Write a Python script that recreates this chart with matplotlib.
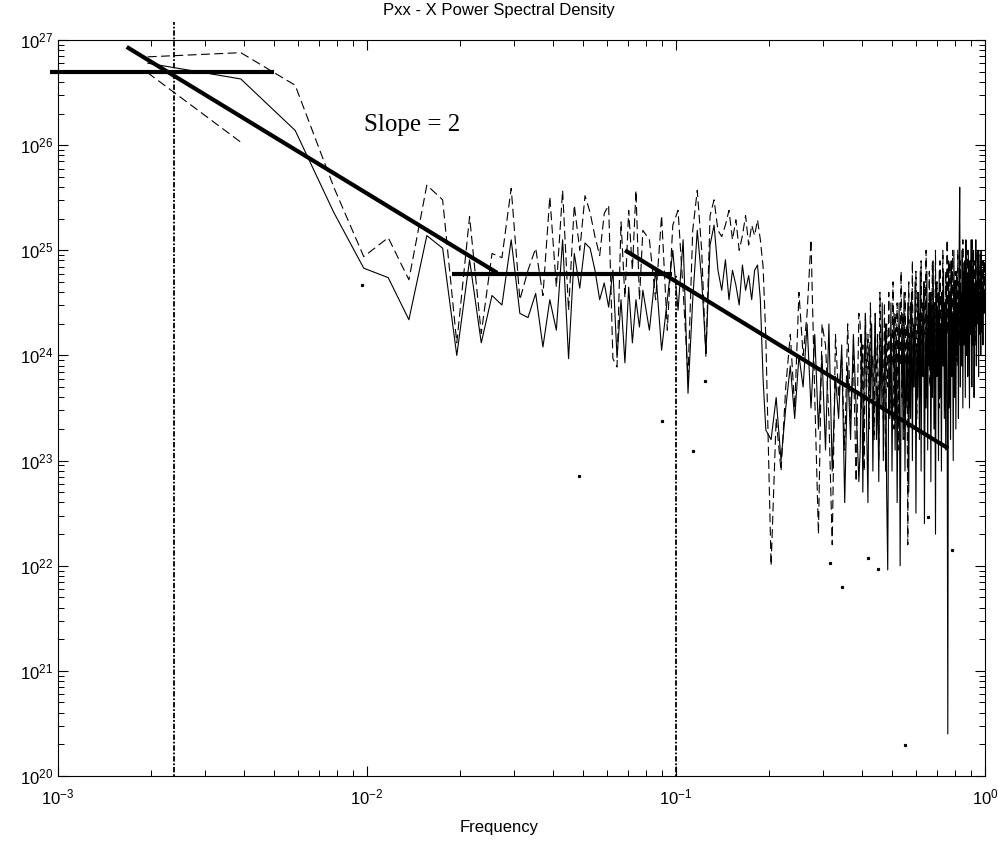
import numpy as np
import matplotlib
matplotlib.use('Agg')
import matplotlib.pyplot as plt
from matplotlib.ticker import LogLocator, NullFormatter

# frequency bins (fft bins of 1/512), thinned a bit in the middle
nfft = 512
bins = np.r_[np.arange(1, 41), np.arange(42, 101, 2), np.arange(104, 201, 4), np.arange(202, 513, 2)]
freq = bins / nfft

# log10 of Pxx, solid curve
solid_lo = [26.78, 26.63, 26.14, 25.36, 24.83, 24.74, 24.34, 25.14, 25.02, 24.00,
            24.91, 24.12, 24.57, 24.48, 25.10, 24.40, 24.36, 24.59, 24.08, 24.53,
            24.24, 25.10, 23.97, 24.97, 24.64, 25.07, 25.02, 24.81, 24.53, 24.69,
            24.46, 24.81, 23.98, 24.53, 23.93, 24.65, 24.12, 24.53, 24.27, 24.62]
solid_mid = [24.24, 24.81, 24.05, 24.53, 25.00, 24.43, 25.10, 23.64, 24.53, 25.19,
             24.72, 24.02, 25.05, 25.24, 24.81, 24.62, 24.91, 24.53, 24.81, 24.67,
             24.48, 24.86, 24.62, 24.76, 24.53, 24.81, 24.86, 24.53, 23.77, 23.29]
solid_hi1 = [23.2, 23.6, 23.0, 23.5, 23.9, 23.4, 24.0, 23.7, 24.3, 23.5,
             24.2, 23.3, 24.0, 23.1, 24.3, 22.9, 23.8, 23.4, 24.1, 22.6,
             23.9, 23.2, 24.2, 23.5, 22.8]
solid_hi2 = [23.1, 24.2, 22.7, 23.8, 24.4, 23.3, 22.6, 24.1, 23.6, 24.3, 22.9, 23.9,
             24.4, 23.2, 23.7, 22.8, 24.2, 23.5, 24.5, 23.0, 23.8, 24.3, 22.7, 21.96,
             24.0, 23.4, 24.5, 22.9, 23.9, 24.4, 23.1, 24.2, 22.6, 23.8, 24.5, 22.0,
             23.7, 24.4, 23.2, 24.6, 22.9, 24.0, 23.5, 24.5, 22.7, 24.2, 23.4, 24.6,
             23.0, 24.3, 23.7, 24.7, 22.5, 24.1, 23.6, 24.6, 23.2, 24.8, 22.9, 24.3,
             23.8, 24.7, 22.4, 24.2, 23.5, 24.8, 23.1, 24.5, 23.9, 24.6, 22.8, 24.4,
             23.6, 24.9, 23.3, 24.5, 22.3, 24.7, 23.8, 24.4, 23.0, 24.8, 23.6, 24.3,
             22.9, 24.6, 23.9, 24.8, 23.4, 24.5, 23.1, 24.7, 23.7, 20.4, 24.9, 23.5,
             24.6, 23.2, 24.9, 23.8, 24.4, 23.0, 25.0, 23.6, 24.7, 23.3, 24.8, 24.0,
             24.5, 23.4, 24.9, 25.6, 23.7, 24.6, 23.9, 25.0, 23.5, 24.8, 24.1, 24.9,
             23.6, 25.1, 24.0, 24.7, 23.8, 25.0, 24.3, 23.5, 24.9, 24.2, 25.1, 23.7,
             24.8, 24.1, 25.0, 23.6, 24.6, 24.3, 25.1, 23.9, 24.7, 24.4, 25.0, 23.8,
             24.6, 24.2, 24.9, 24.0, 25.0, 24.3, 24.7, 24.1, 24.9, 24.4, 24.6, 24.5]

# log10 of Pxx, dashed curve
dashed_lo = [26.84, 26.88, 26.57, 25.60, 24.94, 25.12, 24.72, 25.62, 25.48, 24.12,
             25.32, 24.21, 24.97, 24.93, 25.59, 24.53, 24.81, 25.02, 24.57, 25.51,
             24.65, 25.57, 24.43, 25.43, 25.00, 25.52, 25.36, 25.13, 24.95, 25.35,
             25.43, 23.97, 23.89, 25.27, 24.55, 25.38, 24.81, 25.57, 24.53, 25.19]
dashed_mid = [25.10, 24.53, 25.33, 24.24, 25.24, 25.38, 24.62, 23.79, 25.19, 25.57,
              25.00, 23.98, 25.33, 25.48, 25.19, 25.13, 25.24, 25.38, 25.10, 25.29,
              25.00, 25.14, 25.33, 25.05, 25.24, 25.14, 25.29, 25.10, 24.84, 24.17]
dashed_hi1 = [22.0, 23.4, 22.9, 23.7, 24.2, 23.5, 24.6, 24.0, 24.4, 25.1,
              23.6, 22.3, 24.3, 24.1, 23.4, 22.2, 24.2, 23.6, 24.0, 23.1,
              24.3, 23.4, 24.0, 22.8, 24.4]
dashed_hi2 = [24.3, 23.5, 24.1, 22.9, 24.4, 23.7, 24.2, 23.3, 24.5, 23.8, 24.0, 23.2,
              24.4, 23.6, 24.2, 23.0, 24.6, 23.9, 24.1, 23.4, 24.5, 22.9, 24.3, 23.7,
              24.6, 23.5, 24.2, 23.9, 24.7, 23.3, 24.4, 23.8, 24.5, 23.1, 24.3, 23.9,
              24.8, 23.6, 24.4, 23.2, 24.6, 23.9, 24.3, 22.2, 24.7, 23.5, 24.5, 23.8,
              24.9, 23.7, 24.3, 24.0, 24.8, 23.4, 24.6, 23.9, 24.4, 23.6, 24.9, 24.1,
              24.5, 23.8, 24.7, 24.2, 25.0, 23.6, 24.4, 24.0, 24.8, 23.7, 24.6, 24.2,
              24.9, 23.9, 24.5, 24.1, 25.0, 23.8, 24.7, 24.3, 24.6, 23.5, 24.9, 24.0,
              24.6, 24.2, 25.0, 23.9, 24.5, 24.1, 24.8, 23.8, 25.1, 24.2, 24.6, 24.0,
              24.9, 24.3, 24.6, 23.9, 25.0, 24.2, 24.7, 24.0, 24.8, 24.4, 24.5, 23.9,
              25.0, 24.3, 24.7, 24.1, 24.9, 24.4, 24.6, 24.0, 25.1, 24.3, 24.8, 24.2,
              24.9, 24.4, 24.6, 24.1, 25.0, 24.3, 24.8, 24.0, 24.9, 24.5, 24.7, 24.2,
              25.1, 24.3, 24.8, 24.4, 24.9, 24.1, 25.0, 24.4, 24.7, 24.3, 24.9, 24.5,
              24.8, 24.3, 25.0, 24.4, 24.7, 24.2, 24.9, 24.5, 24.8, 24.4, 24.9, 24.6]

solid = np.array(solid_lo + solid_mid + solid_hi1 + solid_hi2)
dashed = np.array(dashed_lo + dashed_mid + dashed_hi1 + dashed_hi2)

# short dashed piece at the start
short_f = [0.00195, 0.0039]
short_p = [26.69, 26.03]

# stray points of a third (dotted) trace
dot_f = [0.00964, 0.0485, 0.0902, 0.1135, 0.124, 0.315, 0.344, 0.418, 0.451, 0.55, 0.655, 0.782]
dot_p = [24.67, 22.85, 23.38, 23.09, 23.76, 22.03, 21.80, 22.07, 21.97, 20.29, 22.46, 22.15]

# fitted segments (thick)
seg_f = [[0.00094, 0.0050], [0.00167, 0.0264], [0.0188, 0.097], [0.0684, 0.759]]
seg_p = [[5.0e26, 5.0e26], [8.6e26, 6.1e24], [6.0e24, 6.0e24], [1.0e25, 1.31e23]]

# break frequencies
vline_f = [0.00237, 0.1]
vline_p = [[1e20, 1.5e27], [1e20, 6e24]]

plt.rcParams['font.family'] = ['Liberation Sans', 'DejaVu Sans']
plt.rcParams['mathtext.default'] = 'regular'

fig = plt.figure(figsize=(9.98, 8.43), dpi=100)
ax = fig.add_axes([0.058, 0.0795, 0.929, 0.873])

ax.plot(freq, 10**solid, color='k', lw=0.8)
ax.plot(freq, 10**dashed, color='k', lw=0.8, dashes=(8, 4))
ax.plot(short_f, 10**np.array(short_p), color='k', lw=0.8, dashes=(8, 4))
ax.plot(dot_f, 10**np.array(dot_p), ls='none', marker='s', ms=1.3, color='k')

for xs, ys in zip(seg_f, seg_p):
    ax.plot(xs, ys, color='k', lw=3.0, solid_capstyle='butt', clip_on=False)

for x, ys in zip(vline_f, vline_p):
    ax.plot([x, x], ys, color='k', lw=1.3, ls=(0, (1, 1, 3, 1)), clip_on=False)

ax.set_xscale('log')
ax.set_yscale('log')
ax.set_xlim(1e-3, 1)
ax.set_ylim(1e20, 1e27)
ax.yaxis.set_major_locator(LogLocator(base=10, numticks=10))
ax.yaxis.set_minor_locator(LogLocator(base=10, subs=np.arange(2, 10), numticks=20))
ax.yaxis.set_minor_formatter(NullFormatter())
ax.xaxis.set_minor_formatter(NullFormatter())
ax.tick_params(which='both', direction='in', top=True, right=True, labelsize=12)
ax.tick_params(which='major', length=7, width=0.8)
ax.tick_params(which='minor', length=4, width=0.7)
ax.tick_params(axis='x', pad=8)

ax.text(0.0098, 1.55e26, 'Slope = 2', family='Liberation Serif', fontsize=18,
        ha='left', va='center')

fig.text(0.5, 0.988, 'Pxx - X Power Spectral Density', ha='center', va='center', fontsize=12)
fig.text(0.5, 0.018, 'Frequency', ha='center', va='center', fontsize=12)

fig.savefig('out.png', dpi=100)
